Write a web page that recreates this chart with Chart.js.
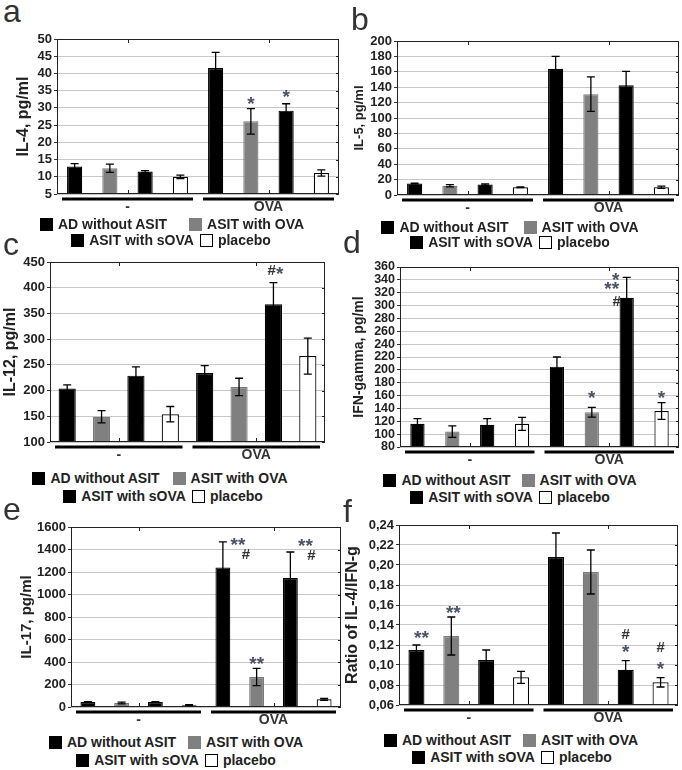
<!DOCTYPE html>
<html>
<head>
<meta charset="utf-8">
<script src="https://cdn.jsdelivr.net/npm/chart.js@4"></script>
<style>
body { margin: 0; width: 682px; height: 770px; position: relative; overflow: hidden; background: #fff; font-family: "Liberation Sans", Arial, sans-serif; }
canvas { position: absolute; }
.letter { position: absolute; font-size: 32px; line-height: 1; color: #333; }
.leg { position: absolute; width: 400px; height: 16px; display: flex; justify-content: center; align-items: center; font-weight: bold; font-size: 14px; color: #222; white-space: nowrap; }
.sq { display: inline-block; width: 13px; height: 13px; margin-right: 5px; box-sizing: border-box; }
</style>
</head>
<body>
<script>
const groups = ["-", "OVA"];
const seriesNames = ["AD without ASIT", "ASIT with OVA", "ASIT with sOVA", "placebo"];
const fills = ["#000", "#808080", "#000", "#fff"];
const borders = ["#000", "#7a7a7a", "#000", "#000"];

// values per series: [ "-", "OVA" ]
const il4Mean = [[13, 41.6], [12.5, 26.1], [11.5, 29.2], [10, 11.1]];
const il4Err = [[0.8, 4.5], [1.2, 3.7], [0.3, 2], [0.5, 0.9]];
const il4Ticks = [5, 50, 5];
const il4Marks = [[1, 1, "*", 32.6, 0], [2, 1, "*", 34.7, 0]];

const il5Mean = [[15, 164], [12, 131], [13.5, 142.5], [10, 10]];
const il5Err = [[0.5, 16], [1.5, 22.5], [1, 18], [0.5, 1.5]];
const il5Ticks = [0, 200, 20];
const il5Marks = [];

const il12Mean = [[204, 234], [149, 207], [229, 368], [154, 267]];
const il12Err = [[7, 14.5], [12, 17], [17, 42], [15, 35]];
const il12Ticks = [100, 450, 50];
const il12Marks = [[2, 1, "#*", 436, 2]];

const ifnMean = [[116, 205], [104, 134], [114.5, 312], [116, 136]];
const ifnErr = [[8, 15], [9, 7.5], [9.5, 32], [10, 13]];
const ifnTicks = [80, 360, 20];
const ifnMarks = [[2, 1, "*", 347, -11], [2, 1, "**", 333, -15], [2, 1, "#", 308, -10], [1, 1, "*", 164, 0], [3, 1, "*", 164, 0]];

const il17Mean = [[44, 1241], [35, 267], [44, 1147], [15, 68]];
const il17Err = [[3, 226], [8, 77], [3, 231], [5, 8]];
const il17Ticks = [0, 1600, 200];
const il17Marks = [[0, 1, "**", 1487, 15], [0, 1, "#", 1363, 23], [1, 1, "**", 430, 0], [2, 1, "**", 1473, 15], [2, 1, "#", 1354, 21]];

const ratioMean = [[0.115, 0.208], [0.129, 0.193], [0.105, 0.0953], [0.0877, 0.0827]];
const ratioErr = [[0.005, 0.024], [0.019, 0.022], [0.01, 0.009], [0.006, 0.0047]];
const ratioTicks = [0.06, 0.24, 0.02];
const ratioMarks = [[0, 0, "**", 0.1323, 5], [1, 0, "**", 0.1567, 2], [2, 1, "#", 0.1317, 0], [2, 1, "*", 0.1183, 0], [3, 1, "#", 0.1183, 0], [3, 1, "*", 0.101, 0]];

const FONT = '"Liberation Sans", Arial, sans-serif';

const panels = [
  { letter: "a", lx: 3, ly: -5, title: "IL-4, pg/ml", titleSize: 16, titleX: 24, plot: [57, 39, 339, 194],
    mean: il4Mean, err: il4Err, ticks: il4Ticks, marks: il4Marks, barPct: 0.43, leg: [172, 224, 171, 240], gap: 22 },
  { letter: "b", lx: 351, ly: 3, title: "IL-5, pg/ml", titleSize: 13, titleX: 359, plot: [397, 41, 679, 195],
    mean: il5Mean, err: il5Err, ticks: il5Ticks, marks: il5Marks, barPct: 0.43, leg: [510, 227, 510, 242], gap: 15 },
  { letter: "c", lx: 3, ly: 228, title: "IL-12, pg/ml", titleSize: 16, titleX: 11, plot: [50, 262, 325, 442],
    mean: il12Mean, err: il12Err, ticks: il12Ticks, marks: il12Marks, barPct: 0.5, leg: [160, 478, 163, 496], gap: 13 },
  { letter: "d", lx: 343, ly: 226, title: "IFN-gamma, pg/ml", titleSize: 14, titleX: 359, plot: [400, 267, 679, 447],
    mean: ifnMean, err: ifnErr, ticks: ifnTicks, marks: ifnMarks, barPct: 0.41, tickSize: 12.5, leg: [510, 480, 510, 497], gap: 11 },
  { letter: "e", lx: 3, ly: 493, title: "IL-17, pg/ml", titleSize: 15, titleX: 26, plot: [71, 527, 341, 707],
    mean: il17Mean, err: il17Err, ticks: il17Ticks, marks: il17Marks, barPct: 0.44, leg: [176, 742, 176, 760], gap: 12 },
  { letter: "f", lx: 343, ly: 495, title: "Ratio of IL-4/IFN-g", titleSize: 16, titleX: 353, plot: [399, 525, 678, 705],
    mean: ratioMean, err: ratioErr, ticks: ratioTicks, marks: ratioMarks, barPct: 0.46, comma: true, leg: [511, 740, 512, 757], gap: 12 }
];

function legendRow(cx, y, items, gap) {
  const row = document.createElement("div");
  row.className = "leg";
  row.style.left = (cx - 200) + "px";
  row.style.top = (y - 8) + "px";
  items.forEach((si, k) => {
    const sq = document.createElement("span");
    sq.className = "sq";
    sq.style.background = fills[si];
    if (si === 3) sq.style.border = "1px solid #000";
    const tx = document.createElement("span");
    tx.textContent = seriesNames[si];
    if (k > 0) sq.style.marginLeft = gap + "px";
    row.appendChild(sq);
    row.appendChild(tx);
  });
  document.body.appendChild(row);
}

// draw "*" bigger than "#", centred glyph-wise around (x, y)
function drawMark(ctx, txt, x, y) {
  const fontOf = ch => ch === "*" ? "bold 19px " + FONT : "bold 15px " + FONT;
  let total = 0;
  const widths = [...txt].map(ch => { ctx.font = fontOf(ch); const wd = ctx.measureText(ch).width; total += wd; return wd; });
  let cx = x - total / 2;
  [...txt].forEach((ch, i) => {
    ctx.font = fontOf(ch);
    ctx.fillStyle = ch === "#" ? "#333" : "#4a5264";
    const off = ch === "*" ? 0.58 * 19 : 0.36 * 15;
    ctx.textAlign = "left";
    ctx.fillText(ch, cx, y + off);
    cx += widths[i];
  });
}

panels.forEach(p => {
  const [l, t, r, b] = p.plot;
  const padT = 10, padR = 3, padB = 24;
  const cLeft = Math.round(p.titleX - p.titleSize / 2);
  const cTop = t - padT;
  const w = r - cLeft + padR, h = b - cTop + padB;

  const cv = document.createElement("canvas");
  cv.width = w; cv.height = h;
  cv.style.left = cLeft + "px"; cv.style.top = cTop + "px";
  cv.style.width = w + "px"; cv.style.height = h + "px";
  document.body.appendChild(cv);

  const let1 = document.createElement("div");
  let1.className = "letter";
  let1.style.left = p.lx + "px"; let1.style.top = p.ly + "px";
  let1.textContent = p.letter;
  document.body.appendChild(let1);

  legendRow(p.leg[0], p.leg[1], [0, 1], p.gap);
  legendRow(p.leg[2], p.leg[3], [2, 3], 6);

  const extras = {
    id: "extras",
    afterDatasetsDraw(chart) {
      const ctx = chart.ctx, a = chart.chartArea, ys = chart.scales.y, xs = chart.scales.x;
      ctx.save();
      // error bars
      ctx.strokeStyle = "#000";
      ctx.lineWidth = 1.3;
      p.mean.forEach((vals, si) => {
        const meta = chart.getDatasetMeta(si);
        vals.forEach((v, gi) => {
          const x = meta.data[gi].x, e = p.err[si][gi];
          const y1 = ys.getPixelForValue(v + e);
          const lo = v - e;
          const y0 = ys.getPixelForValue(Math.max(lo, ys.min));
          ctx.beginPath();
          ctx.moveTo(x, y0); ctx.lineTo(x, y1);
          ctx.moveTo(x - 4, y1); ctx.lineTo(x + 4, y1);
          if (lo > ys.min) { ctx.moveTo(x - 4, y0); ctx.lineTo(x + 4, y0); }
          ctx.stroke();
        });
      });
      // significance marks
      ctx.textBaseline = "alphabetic";
      p.marks.forEach(([si, gi, txt, val, dx]) => {
        const x = chart.getDatasetMeta(si).data[gi].x + dx;
        drawMark(ctx, txt, x, ys.getPixelForValue(val));
      });
      // frame
      ctx.strokeStyle = "#222";
      ctx.lineWidth = 1;
      ctx.strokeRect(Math.round(a.left) + 0.5, Math.round(a.top) + 0.5, Math.round(a.right - a.left) - 1, Math.round(a.bottom - a.top) - 1);
      // inner ticks on the right side and category marks
      ctx.beginPath();
      ys.ticks.forEach(tk => {
        const y = Math.round(ys.getPixelForValue(tk.value)) + 0.5;
        ctx.moveTo(a.right, y); ctx.lineTo(a.right - 3, y);
      });
      groups.forEach((g, i) => {
        const x = Math.round(xs.getPixelForValue(i)) + 0.5;
        ctx.moveTo(x, a.top); ctx.lineTo(x, a.top + 4);
        ctx.moveTo(x, a.bottom); ctx.lineTo(x, a.bottom - 4);
      });
      ctx.stroke();
      // group underlines and labels
      const slot = (a.right - a.left) / groups.length;
      ctx.lineWidth = 3;
      ctx.strokeStyle = "#000";
      ctx.fillStyle = "#333";
      ctx.font = "bold 14px " + FONT;
      ctx.textAlign = "center";
      ctx.textBaseline = "middle";
      groups.forEach((g, i) => {
        const y = a.bottom + 5;
        ctx.beginPath();
        ctx.moveTo(a.left + i * slot + 5, y);
        ctx.lineTo(a.left + (i + 1) * slot - 5, y);
        ctx.stroke();
        ctx.fillText(g, a.left + (i + 0.5) * slot, a.bottom + 13);
      });
      ctx.restore();
    }
  };

  new Chart(cv, {
    type: "bar",
    data: {
      labels: groups,
      datasets: seriesNames.map((name, i) => ({
        label: name,
        data: p.mean[i],
        backgroundColor: fills[i],
        borderColor: borders[i],
        borderWidth: 1.2,
        categoryPercentage: 1,
        barPercentage: p.barPct
      }))
    },
    options: {
      responsive: false,
      animation: false,
      devicePixelRatio: 1,
      layout: { padding: { left: 0, top: padT, right: padR, bottom: padB } },
      plugins: { legend: { display: false }, tooltip: { enabled: false } },
      scales: {
        x: { type: "category", display: false, offset: true },
        y: {
          min: p.ticks[0],
          max: p.ticks[1],
          afterFit: s => { s.width = l - cLeft; },
          border: { display: false },
          grid: { color: "#c8c8c8", lineWidth: 1, drawTicks: true, tickLength: 3, tickColor: "#333" },
          ticks: {
            stepSize: p.ticks[2],
            autoSkip: false,
            padding: 2,
            color: "#222",
            font: { family: FONT, size: p.tickSize || 13, weight: "bold" },
            callback: v => p.comma ? v.toFixed(2).replace(".", ",") : v
          },
          title: {
            display: true,
            text: p.title,
            color: "#222",
            padding: 0,
            font: { family: FONT, size: p.titleSize, weight: "bold", lineHeight: 1 }
          }
        }
      }
    },
    plugins: [extras]
  });
});
</script>
</body>
</html>
